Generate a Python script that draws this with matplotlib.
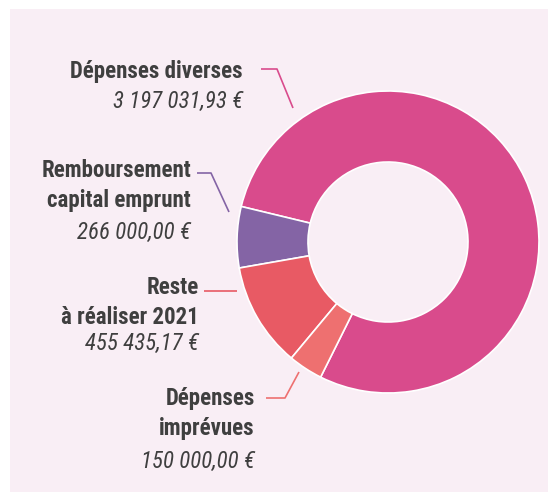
import matplotlib
matplotlib.use('Agg')
import matplotlib.pyplot as plt
import matplotlib.patches as patches

# Data
labels = ["Dépenses diverses", "Remboursement\ncapital emprunt", "Reste\nà réaliser 2021", "Dépenses\nimprévues"]
values = [3197031.93, 266000.00, 455435.17, 150000.00]
value_labels = ["3 197 031,93 €", "266 000,00 €", "455 435,17 €", "150 000,00 €"]
colors = ['#d94b8c', '#8464a5', '#e85a64', '#ee7070']

FONTS = ['Roboto Condensed', 'Liberation Sans Narrow', 'Roboto', 'DejaVu Sans']
TEXT_COLOR = '#3f3f3f'
BG = '#f9eef5'

W, H = 548, 492
fig = plt.figure(figsize=(W / 100, H / 100), dpi=100)
fig.patch.set_facecolor('white')
ax = fig.add_axes([0, 0, 1, 1])

# Pink panel
ax.add_patch(patches.Rectangle((10, 0), W - 10, H - 9, facecolor=BG, edgecolor='none', zorder=0))

# Donut (center and radius in pixel coords, y measured from bottom)
cx, cy, R = 388, H - 242, 151
ax.pie(values, colors=colors, startangle=-116.5, counterclock=True,
       center=(cx, cy), radius=R,
       wedgeprops=dict(width=71, edgecolor='white', linewidth=1.2))

ax.set_xlim(0, W)
ax.set_ylim(0, H)
ax.set_aspect('auto')
ax.axis('off')

def y(v):
    return H - v

# Label blocks: (right x, name top baseline, value baseline)
label_pos = [
    (243, 78, 108),
    (191, 177, 239),
    (199, 294, 350),
    (255, 405, 468),
]
line_gap = 29.5

for (rx, base, vbase), name, val in zip(label_pos, labels, value_labels):
    for i, ln in enumerate(name.split('\n')):
        ax.text(rx, y(base + i * line_gap), ln, ha='right', va='baseline',
                fontsize=16.5, fontweight='bold', color=TEXT_COLOR, family=FONTS)
    ax.text(rx, y(vbase), val, ha='right', va='baseline',
            fontsize=16.5, fontstyle='italic', color=TEXT_COLOR, family=FONTS)

# Leader lines
leaders = [
    ([261, 277, 293], [69, 69, 108]),
    ([197, 211, 229], [173, 173, 212]),
    ([204, 237], [291, 291]),
    ([266, 285, 299], [398, 398, 372]),
]
for (xs, ys), c in zip(leaders, colors):
    ax.plot(xs, [y(v) for v in ys], color=c, lw=1.2, solid_capstyle='butt')

fig.savefig('out.png', dpi=100, facecolor=fig.get_facecolor())
plt.close(fig)
